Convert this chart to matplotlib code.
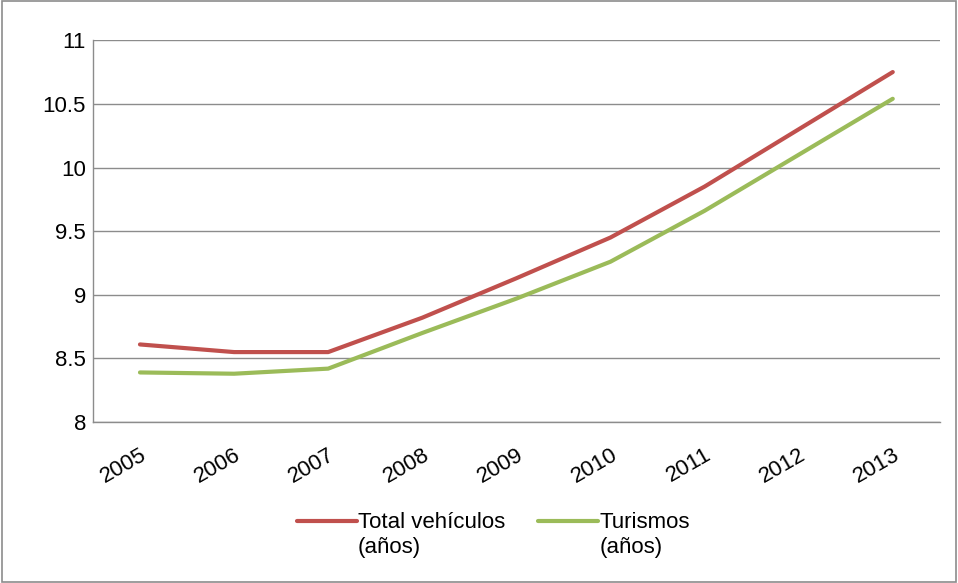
import matplotlib
matplotlib.use("Agg")
import matplotlib.pyplot as plt
from matplotlib.patches import Rectangle

plt.rcParams['font.family'] = ['Liberation Sans', 'DejaVu Sans']

anios = ['2005', '2006', '2007', '2008', '2009', '2010', '2011', '2012', '2013']
total_vehiculos = [8.61, 8.55, 8.55, 8.82, 9.13, 9.45, 9.85, 10.30, 10.75]
turismos = [8.39, 8.38, 8.42, 8.70, 8.97, 9.26, 9.66, 10.10, 10.54]
series_names = ['Total vehículos', 'Turismos']
unidad = '(años)'

fig = plt.figure(figsize=(9.58, 5.83), dpi=100)
ax = fig.add_axes([0.097, 0.276, 0.884, 0.655])

x = range(len(anios))
ax.plot(x, total_vehiculos, color='#C0504D', lw=3, solid_capstyle='round',
        label=series_names[0])
ax.plot(x, turismos, color='#9BBB59', lw=3, solid_capstyle='round',
        label=series_names[1])

ax.set_xlim(-0.5, len(anios) - 0.5)
ax.set_ylim(8, 11)
ax.set_yticks([8, 8.5, 9, 9.5, 10, 10.5, 11])
ax.set_yticklabels(['8', '8.5', '9', '9.5', '10', '10.5', '11'])
ax.set_xticks(list(x))
ax.set_xticklabels(anios, rotation=30, ha='right', rotation_mode='anchor')
ax.tick_params(axis='both', labelsize=16, length=0)
ax.tick_params(axis='y', pad=5)
ax.tick_params(axis='x', pad=16)

ax.grid(axis='y', color='#8C8C8C', lw=1)
ax.set_axisbelow(True)
for s in ['top', 'right']:
    ax.spines[s].set_visible(False)
for s in ['left', 'bottom']:
    ax.spines[s].set_color('#8C8C8C')
    ax.spines[s].set_linewidth(1)

leg = fig.legend(loc='center', bbox_to_anchor=(0.515, 0.103), ncol=2, frameon=False,
                 fontsize=16, handlelength=2.7, handletextpad=0.05, columnspacing=1.5)

# segunda línea de cada etiqueta de leyenda, debajo del texto
fig.canvas.draw()
r = fig.canvas.get_renderer()
for t in leg.get_texts():
    bb = t.get_window_extent(r)
    fig.text(bb.x0 / fig.bbox.width, (bb.y0 - 4) / fig.bbox.height, unidad,
             fontsize=16, ha='left', va='top')

fig.add_artist(Rectangle((0.002, 0.002), 0.996, 0.996, transform=fig.transFigure,
                         fill=False, edgecolor='#8C8C8C', lw=1.2))

fig.savefig('out.png', dpi=100)
